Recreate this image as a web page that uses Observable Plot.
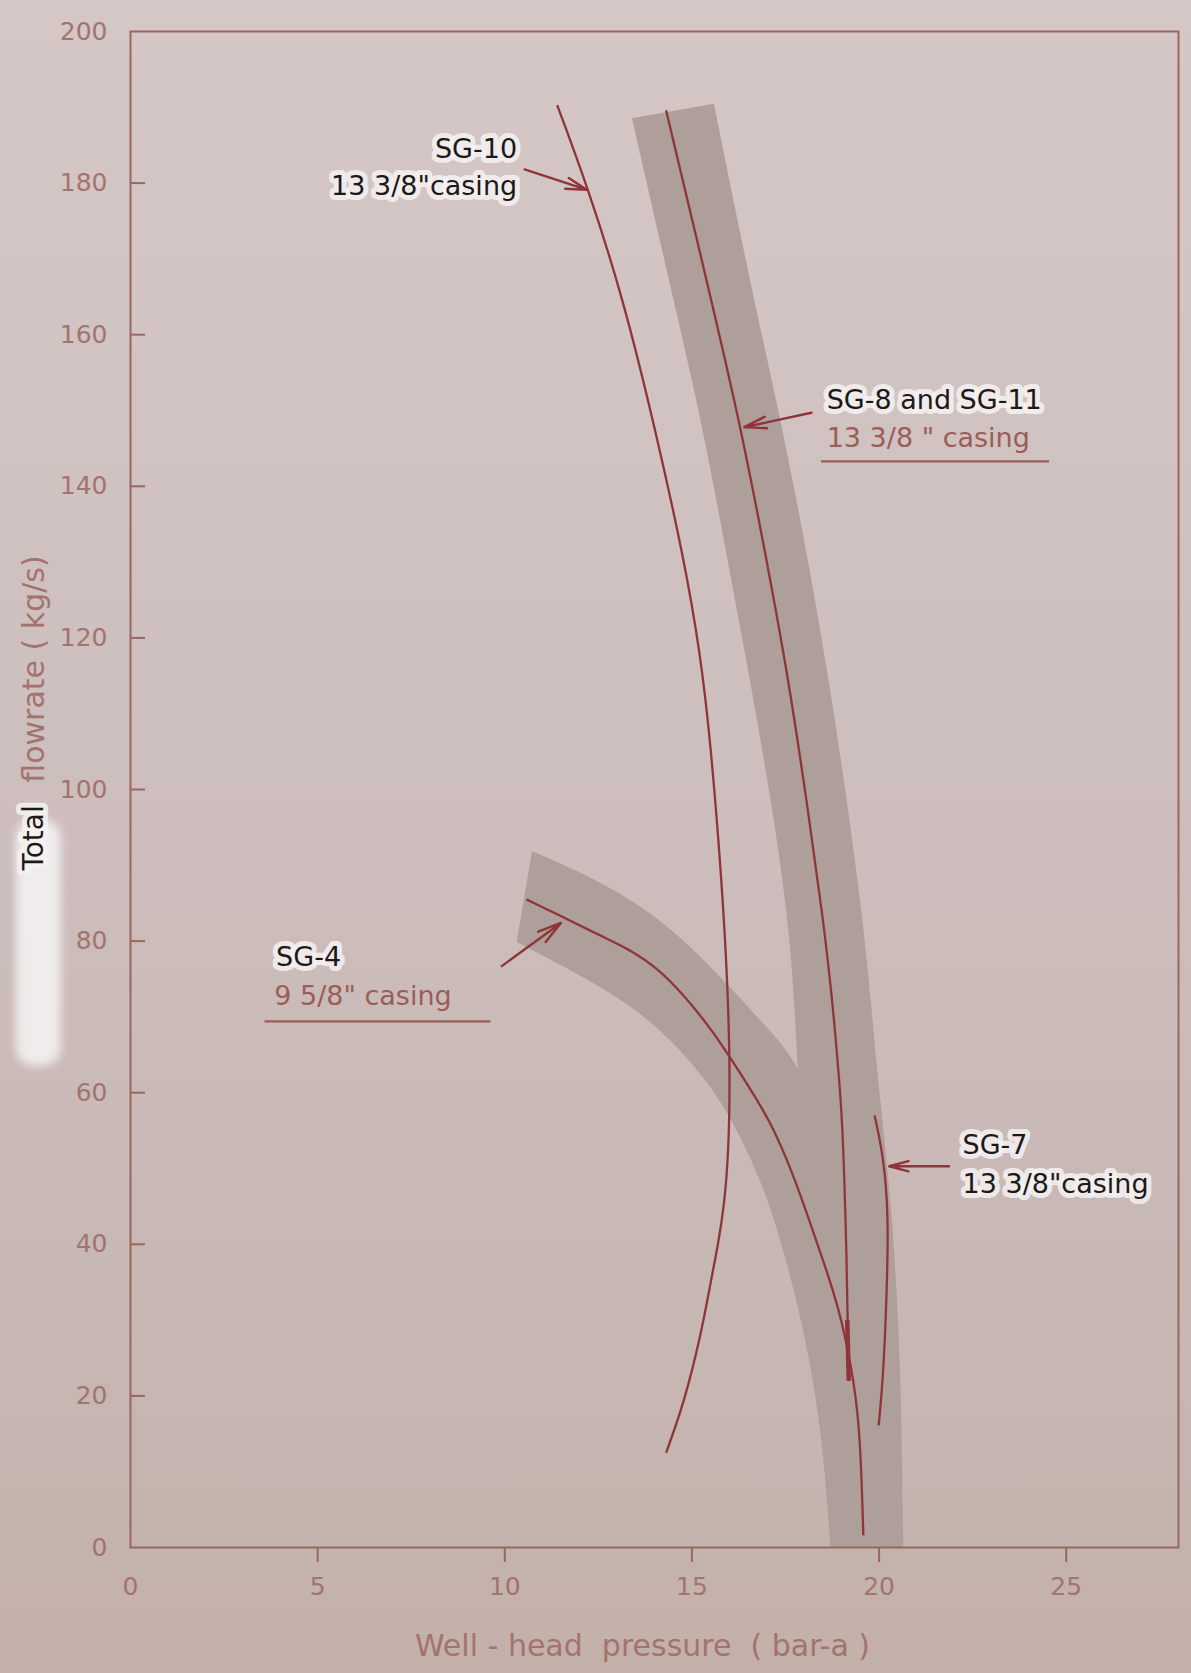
<!DOCTYPE html>
<html>
<head>
<meta charset="utf-8">
<script src="https://cdn.jsdelivr.net/npm/d3@7"></script>
<script src="https://cdn.jsdelivr.net/npm/@observablehq/plot@0.6"></script>
<style>
  html, body { margin: 0; padding: 0; background: #cbbcbb; }
  #chart svg { display: block; }
</style>
</head>
<body>
<div id="chart"></div>
<script>
// ---- axis ticks ----
const xTicks = [0, 5, 10, 15, 20, 25];
const xTickMarks = [5, 10, 15, 20, 25];
const yTicks = [0, 20, 40, 60, 80, 100, 120, 140, 160, 180, 200];
const yTickMarks = [20, 40, 60, 80, 100, 120, 140, 160, 180];

// ---- curves: [well-head pressure (bar-a), total flowrate (kg/s)] ----
const sg10 = [[11.4,190.3],[12.22,179.4],[13.15,165],[14.0,148],[14.8,130.2],[15.22,118],[15.49,106.7],[15.8,87.9],[15.96,73.7],[16.02,62],[15.98,52],[15.86,45],[15.7,40],[15.5,35],[15.26,28.5],[14.8,19.2],[14.31,12.5]];
const sg8and11 = [[14.31,189.6],[15.45,166],[16.3,148],[17.0,130.2],[17.6,114],[18.1,97.3],[18.5,83.2],[18.77,71.4],[18.93,61.9],[19.02,56.4],[19.13,40],[19.19,22]];
const sg8Stub = [[19.15,30],[19.19,22]];
const sg4 = [[10.58,85.5],[11.5,83.3],[12.56,80.7],[13.3,79.0],[14.07,76.5],[14.8,72.8],[15.58,68.0],[16.3,62.5],[17.1,56.3],[17.7,49.3],[18.19,42.4],[18.6,36.5],[19.0,30.3],[19.35,21.4],[19.5,14.4],[19.58,1.6]];
const sg7 = [[19.88,57],[20.1,52],[20.22,46],[20.24,40],[20.18,30],[20.1,22],[19.99,16.1]];

// ---- shaded bands (paired edges) ----
const sg8BandLeft  = [[13.41,188.5],[14.45,166],[15.3,148],[15.97,130],[16.62,113],[17.18,97],[17.58,83],[17.75,72],[17.85,62],[18.05,45],[18.4,24],[18.72,0]];
const sg8BandRight = [[15.6,190.4],[16.6,166],[17.42,148],[18.13,130],[18.72,113],[19.2,97],[19.57,83],[19.8,72],[19.97,62],[20.36,45],[20.6,24],[20.66,0]];
const sg4BandLower = [[10.33,79.8],[12.56,74.1],[14.07,69],[15.37,61.9],[16.1,56.3],[16.8,49],[17.28,42.4],[18.04,28.4],[18.5,14.5],[18.72,0]];
const sg4BandUpper = [[10.74,91.8],[12.56,87.9],[14.3,82.6],[15.98,74.2],[17.0,68.6],[17.8,64.3],[18.7,54],[19.25,38],[19.6,20],[19.8,0]];

// ---- helpers ----
const rows = pts => pts.map(([x, y]) => ({x, y}));
const band = (a, b) => a.map((p, i) => ({x1: p[0], y1: p[1], x2: b[i][0], y2: b[i][1]}));

const bandFill = "#ae9f9b";
const lineColor = "#8f3539";
const frameColor = "#9a675e";
const tickColor = "#a3736d";
const brownText = "#9b5d57";
const ink = "#1d1919";
const halo = "#f6f2f2";
const font = "DejaVu Sans";

const lineOpts = {x: "x", y: "y", stroke: lineColor, strokeWidth: 2.3, curve: "basis", strokeLinecap: "butt"};
const inkText = {fill: ink, stroke: halo, strokeWidth: 10, strokeOpacity: 0.85, paintOrder: "stroke", strokeLinejoin: "round", fontSize: 27, fontFamily: font};
const brownTextOpts = {fill: brownText, fontSize: 27, fontFamily: font};
const arrowOpts = {x1: "x1", y1: "y1", x2: "x2", y2: "y2", stroke: lineColor, strokeWidth: 2.4, headLength: 18, headAngle: 30};

const chart = Plot.plot({
  width: 1191,
  height: 1673,
  marginLeft: 130,
  marginRight: 13,
  marginTop: 31,
  marginBottom: 126,
  style: {
    background: "linear-gradient(180deg, #d4c7c6 0%, #cdbfbe 45%, #c7b7b3 80%, #c3b0a9 100%)",
    fontFamily: font
  },
  x: {domain: [0, 28], label: null},
  y: {domain: [0, 200], label: null},
  marks: [
    // white smear on the left margin
    Plot.rect([{}], {x1: -3.05, x2: -1.85, y1: 63.5, y2: 96, fill: "#f7f4f4", fillOpacity: 0.85, rx: 18, imageFilter: "blur(5px)"}),

    // shaded bands
    Plot.area(band(sg8BandLeft, sg8BandRight), {x1: "x1", y1: "y1", x2: "x2", y2: "y2", fill: bandFill, curve: "basis"}),
    Plot.area(band(sg4BandLower, sg4BandUpper), {x1: "x1", y1: "y1", x2: "x2", y2: "y2", fill: bandFill, curve: "basis"}),

    // curves
    Plot.line(rows(sg10), lineOpts),
    Plot.line(rows(sg8and11), lineOpts),
    Plot.line(rows(sg8Stub), {...lineOpts, curve: "linear", strokeWidth: 4.5}),
    Plot.line(rows(sg4), lineOpts),
    Plot.line(rows(sg7), lineOpts),

    // frame and axes
    Plot.frame({stroke: frameColor, strokeWidth: 2}),
    Plot.axisX(xTicks, {tickSize: 0, tickPadding: 30, fontSize: 25, fill: tickColor, label: null, fontFamily: font}),
    Plot.axisX(xTickMarks, {tickSize: 15, tickFormat: () => "", stroke: frameColor, strokeWidth: 2, label: null}),
    Plot.axisY(yTicks, {tickSize: 0, tickPadding: 23, fontSize: 25, fill: tickColor, label: null, fontFamily: font}),
    Plot.axisY(yTickMarks, {anchor: "right", frameAnchor: "left", tickSize: 14, tickFormat: () => "", stroke: frameColor, strokeWidth: 2, label: null}),

    // axis titles
    Plot.text(["Well - head  pressure  ( bar-a )"], {frameAnchor: "bottom", dx: -12, dy: 108, fill: tickColor, fontSize: 30, fontFamily: font}),
    Plot.text([{y: 89.3, t: "Total"}], {y: "y", text: "t", frameAnchor: "left", dx: -96, rotate: -90, textAnchor: "start", ...inkText, fontSize: 28}),
    Plot.text([{y: 100.9, t: "flowrate ( kg/s)"}], {y: "y", text: "t", frameAnchor: "left", dx: -96, rotate: -90, textAnchor: "start", fill: tickColor, fontSize: 30, fontFamily: font}),

    // underlines
    Plot.link([{x1: 18.45, y1: 143.3, x2: 24.54, y2: 143.3}], {x1: "x1", y1: "y1", x2: "x2", y2: "y2", stroke: brownText, strokeWidth: 2.2}),
    Plot.link([{x1: 3.58, y1: 69.4, x2: 9.62, y2: 69.4}], {x1: "x1", y1: "y1", x2: "x2", y2: "y2", stroke: brownText, strokeWidth: 2.2}),

    // leader arrows
    Plot.arrow([{x1: 10.53, y1: 181.8, x2: 12.2, y2: 179.1}], arrowOpts),
    Plot.arrow([{x1: 18.19, y1: 149.7, x2: 16.4, y2: 147.8}], arrowOpts),
    Plot.arrow([{x1: 9.92, y1: 76.7, x2: 11.5, y2: 82.4}], arrowOpts),
    Plot.arrow([{x1: 21.87, y1: 50.3, x2: 20.27, y2: 50.3}], arrowOpts),

    // annotations
    Plot.text([{x: 10.33, y: 184.5, t: "SG-10"}, {x: 10.33, y: 179.6, t: "13 3/8\"casing"}], {x: "x", y: "y", text: "t", textAnchor: "end", ...inkText}),
    Plot.text([{x: 18.6, y: 151.3, t: "SG-8 and SG-11"}], {x: "x", y: "y", text: "t", textAnchor: "start", ...inkText}),
    Plot.text([{x: 18.6, y: 146.3, t: "13 3/8 \" casing"}], {x: "x", y: "y", text: "t", textAnchor: "start", ...brownTextOpts}),
    Plot.text([{x: 3.89, y: 77.9, t: "SG-4"}], {x: "x", y: "y", text: "t", textAnchor: "start", ...inkText}),
    Plot.text([{x: 3.84, y: 72.7, t: "9 5/8\" casing"}], {x: "x", y: "y", text: "t", textAnchor: "start", ...brownTextOpts}),
    Plot.text([{x: 22.23, y: 53.05, t: "SG-7"}, {x: 22.23, y: 47.9, t: "13 3/8\"casing"}], {x: "x", y: "y", text: "t", textAnchor: "start", ...inkText})
  ]
});

document.getElementById("chart").appendChild(chart);
</script>
</body>
</html>
